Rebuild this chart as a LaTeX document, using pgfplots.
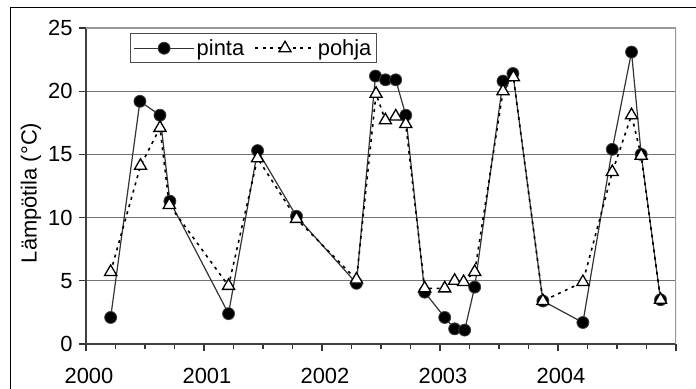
\documentclass[border=0pt]{standalone}
\usepackage{fontspec}
\setmainfont{Liberation Sans}
\usepackage{pgfplots}
\pgfplotsset{compat=1.18}
\pgfplotstableread{
x y
2000.209 2.1
2000.457 19.2
2000.627 18.1
2000.711 11.3
2001.208 2.4
2001.454 15.3
2001.784 10.1
2002.292 4.8
2002.453 21.2
2002.538 20.9
2002.625 20.9
2002.710 18.1
2002.870 4.1
2003.040 2.1
2003.124 1.2
2003.209 1.1
2003.294 4.5
2003.534 20.8
2003.618 21.4
2003.872 3.4
2004.211 1.7
2004.460 15.4
2004.623 23.1
2004.705 15.0
2004.869 3.5
}\pinta
\pgfplotstableread{
x y
2000.209 5.7
2000.462 14.1
2000.627 17.1
2000.706 11.0
2001.208 4.6
2001.454 14.7
2001.784 9.9
2002.292 5.1
2002.458 19.8
2002.537 17.7
2002.625 18.0
2002.710 17.4
2002.870 4.4
2003.040 4.4
2003.124 5.0
2003.200 4.9
2003.294 5.7
2003.534 20.0
2003.622 21.1
2003.872 3.4
2004.211 4.9
2004.460 13.6
2004.623 18.1
2004.705 14.9
2004.869 3.5
}\pohja
\newcommand{\bigfont}{\fontsize{22}{26}\selectfont}
\begin{document}
\begin{tikzpicture}
\draw[line width=1bp] (10bp,-5bp) -- (10bp,381bp) -- (705bp,381bp);
\begin{axis}[
  at={(86bp,45bp)}, anchor=south west,
  width=590bp, height=316bp, scale only axis,
  xmin=2000, xmax=2005, ymin=0, ymax=25,
  axis lines*=left,
  axis line style={-, line width=1.5bp, black!75},
  xtick={2000,2001,2002,2003,2004,2005},
  xticklabels={2000,2001,2002,2003,2004,},
  minor x tick num=3,
  ytick={0,5,10,15,20,25},
  tick align=outside,
  major tick length=7bp, minor tick length=5bp,
  tick style={line width=1.2bp, black!80},
  /pgf/number format/assume math mode=true,
  tick label style={font=\bigfont},
  xticklabel style={anchor=center, yshift=-25bp, xshift=3bp},
  yticklabel style={xshift=-3bp},
  ymajorgrids,
  grid style={line width=0.8bp, black!55},
  ylabel={Lämpötila (°C)},
  ylabel style={font=\bigfont, at={(axis description cs:-0.0932,0.478)}, anchor=center},
  legend style={at={(rel axis cs:0.0746,0.984)}, anchor=north west,
    draw=black!70, line width=1bp, font=\bigfont, inner xsep=3bp, inner ysep=4bp,
    /tikz/every even column/.append style={column sep=8bp}},
  legend columns=2,
  legend image code/.code={\draw[mark repeat=2,mark phase=2,#1] plot coordinates {(0bp,0bp) (30bp,0bp) (60bp,0bp)};},
]
\draw[black!40, line width=1.5bp] (rel axis cs:0,1) -- (rel axis cs:1,1) -- (rel axis cs:1,0);
\addplot[black!80, line width=1.2bp, mark=*, mark size=6bp, mark options={solid, fill=black, draw=black!75, line width=0.8bp}] table[x=x,y=y] {\pinta};
\addlegendentry{pinta}
\addplot[black, line width=1.6bp, dash pattern=on 3bp off 4.5bp, mark=triangle*, mark size=7bp, mark options={solid, fill=white, draw=black, line width=1.3bp}] table[x=x,y=y] {\pohja};
\addlegendentry{pohja}
\end{axis}
\pgfresetboundingbox
\path[use as bounding box] (0,0) rectangle (696bp,389bp);
\end{tikzpicture}
\end{document}
